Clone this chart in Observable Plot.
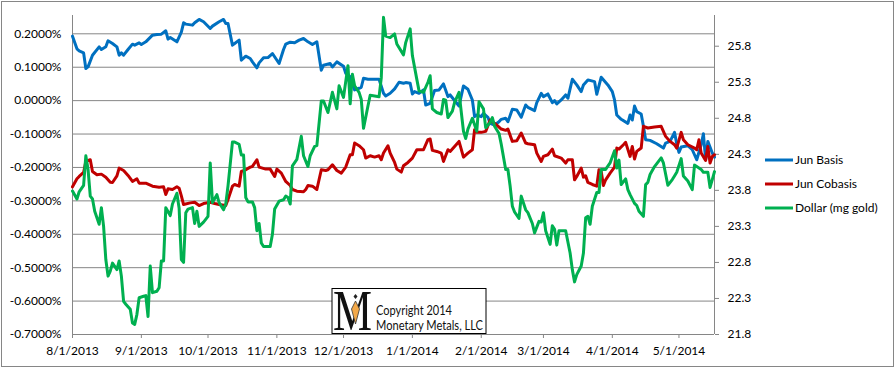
<!DOCTYPE html>
<html>
<head>
<meta charset="utf-8">
<script src="https://cdn.jsdelivr.net/npm/d3@7"></script>
<script src="https://cdn.jsdelivr.net/npm/@observablehq/plot@0.6"></script>
<style>
  html, body { margin: 0; padding: 0; background: white; }
  #chart { width: 896px; height: 369px; }
</style>
</head>
<body>
<div id="chart"></div>
<script>
// Days since 8/1/2013 and values
const startDate = "2013-08-01";
const lastDay = 289;
const leftTicks = [-0.7, -0.6, -0.5, -0.4, -0.3, -0.2, -0.1, 0, 0.1, 0.2];      // percent
const rightTicks = [21.8, 22.3, 22.8, 23.3, 23.8, 24.3, 24.8, 25.3, 25.8];     // mg gold
const seriesNames = ["Jun Basis", "Jun Cobasis", "Dollar (mg gold)"];
const seriesColors = ["#0070C0", "#C00000", "#00B050"];

// Jun Basis (%), [day, value]
const junBasis = [[0,0.193],[2,0.155],[3,0.149],[5,0.143],[6,0.096],[7,0.101],[9,0.136],[12,0.161],[13,0.153],[15,0.161],[16,0.179],[18,0.171],[20,0.161],[21,0.136],[22,0.143],[23,0.136],[25,0.153],[27,0.169],[28,0.166],[30,0.173],[31,0.168],[33,0.176],[36,0.196],[38,0.198],[40,0.199],[42,0.209],[43,0.184],[44,0.189],[47,0.176],[49,0.205],[50,0.233],[51,0.229],[54,0.226],[55,0.233],[57,0.243],[59,0.236],[62,0.216],[63,0.223],[66,0.236],[68,0.243],[69,0.231],[70,0.231],[72,0.166],[73,0.171],[75,0.181],[76,0.121],[78,0.133],[80,0.126],[81,0.116],[83,0.098],[84,0.113],[86,0.128],[88,0.129],[90,0.141],[93,0.111],[95,0.153],[96,0.169],[98,0.175],[100,0.173],[102,0.181],[104,0.186],[106,0.176],[108,0.168],[110,0.176],[112,0.091],[113,0.106],[116,0.111],[117,0.101],[119,0.116],[122,0.103],[123,0.082],[125,0.072],[127,0.032],[129,0.037],[130,0.040],[131,0.067],[133,0.064],[135,0.064],[138,0.064],[140,0.022],[141,0.014],[143,0.022],[145,0.035],[147,0.055],[149,0.052],[150,0.054],[152,0.052],[153,0.020],[154,0.027],[156,0.022],[158,0.032],[159,-0.013],[161,-0.008],[163,0.030],[165,0.032],[167,0.050],[169,0.012],[170,0.017],[173,-0.008],[174,-0.016],[176,0.044],[178,0.034],[180,0.002],[181,-0.048],[182,-0.043],[184,-0.048],[185,-0.038],[187,-0.050],[188,-0.068],[190,-0.073],[192,-0.063],[193,-0.056],[195,-0.053],[196,-0.063],[198,-0.026],[200,-0.028],[202,-0.050],[204,-0.013],[205,-0.020],[208,-0.030],[209,-0.006],[211,0.022],[212,0.012],[214,0.020],[216,-0.006],[217,0.000],[218,-0.010],[220,0.002],[222,0.017],[223,0.007],[225,0.064],[227,0.047],[229,0.027],[230,0.047],[232,0.062],[235,0.057],[236,0.019],[238,0.070],[241,0.047],[243,0.027],[244,0.002],[245,-0.043],[247,-0.056],[250,-0.068],[251,-0.043],[252,-0.058],[253,-0.016],[254,-0.033],[256,-0.040],[257,-0.077],[258,-0.117],[260,-0.119],[263,-0.129],[266,-0.142],[267,-0.127],[269,-0.122],[271,-0.095],[272,-0.129],[273,-0.155],[274,-0.139],[277,-0.135],[279,-0.147],[281,-0.177],[283,-0.132],[284,-0.099],[285,-0.177],[286,-0.122],[288,-0.157],[289,-0.169]];

// Jun Cobasis (%), [day, value]
const junCobasis = [[0,-0.258],[2,-0.234],[3,-0.227],[5,-0.215],[6,-0.182],[8,-0.177],[9,-0.212],[11,-0.222],[13,-0.220],[15,-0.229],[17,-0.244],[18,-0.245],[20,-0.225],[21,-0.202],[23,-0.209],[25,-0.224],[27,-0.242],[29,-0.234],[30,-0.247],[33,-0.247],[36,-0.256],[39,-0.259],[41,-0.258],[42,-0.281],[43,-0.264],[45,-0.266],[47,-0.258],[48,-0.262],[49,-0.285],[50,-0.311],[53,-0.306],[55,-0.304],[57,-0.314],[59,-0.308],[62,-0.304],[64,-0.308],[66,-0.311],[69,-0.314],[70,-0.296],[72,-0.256],[73,-0.251],[75,-0.256],[76,-0.212],[78,-0.207],[80,-0.199],[81,-0.197],[83,-0.177],[84,-0.199],[87,-0.205],[89,-0.205],[91,-0.227],[92,-0.205],[94,-0.217],[96,-0.242],[98,-0.254],[99,-0.266],[101,-0.271],[104,-0.273],[105,-0.266],[106,-0.254],[108,-0.256],[110,-0.266],[112,-0.207],[114,-0.209],[115,-0.207],[117,-0.192],[119,-0.209],[121,-0.217],[123,-0.199],[125,-0.162],[126,-0.162],[127,-0.127],[129,-0.135],[131,-0.147],[132,-0.172],[134,-0.165],[136,-0.169],[138,-0.165],[139,-0.177],[140,-0.157],[142,-0.135],[143,-0.157],[145,-0.185],[146,-0.205],[148,-0.214],[149,-0.195],[151,-0.185],[153,-0.172],[155,-0.147],[157,-0.147],[158,-0.147],[160,-0.117],[161,-0.115],[162,-0.149],[164,-0.152],[166,-0.157],[167,-0.182],[169,-0.147],[170,-0.152],[172,-0.137],[174,-0.122],[176,-0.169],[178,-0.157],[180,-0.147],[181,-0.087],[182,-0.095],[184,-0.095],[186,-0.092],[188,-0.058],[189,-0.063],[191,-0.073],[193,-0.085],[195,-0.089],[196,-0.085],[198,-0.122],[200,-0.120],[202,-0.097],[204,-0.127],[205,-0.129],[208,-0.132],[209,-0.157],[211,-0.182],[212,-0.167],[214,-0.162],[216,-0.145],[217,-0.165],[220,-0.172],[222,-0.187],[223,-0.177],[225,-0.177],[226,-0.237],[227,-0.227],[229,-0.202],[230,-0.229],[231,-0.225],[232,-0.245],[234,-0.251],[236,-0.256],[237,-0.207],[238,-0.212],[239,-0.254],[240,-0.237],[242,-0.217],[244,-0.199],[245,-0.142],[246,-0.145],[248,-0.132],[249,-0.125],[251,-0.167],[252,-0.137],[253,-0.175],[254,-0.152],[256,-0.142],[257,-0.077],[259,-0.082],[262,-0.079],[265,-0.077],[267,-0.107],[269,-0.122],[271,-0.132],[272,-0.142],[274,-0.095],[275,-0.117],[277,-0.132],[280,-0.142],[281,-0.147],[282,-0.117],[283,-0.157],[285,-0.179],[286,-0.137],[287,-0.187],[288,-0.167],[289,-0.162]];

// Dollar (mg gold), right axis, [day, value]
const dollarMg = [[0,23.79],[2,23.68],[3,23.78],[5,23.87],[6,24.28],[7,24.09],[8,23.72],[9,23.68],[10,23.51],[12,23.33],[13,23.56],[14,23.30],[15,22.84],[16,22.61],[17,22.68],[18,22.79],[20,22.70],[21,22.82],[22,22.61],[23,22.26],[24,22.22],[26,22.15],[27,21.96],[28,21.94],[29,22.08],[30,22.31],[32,22.33],[33,22.34],[34,22.05],[35,22.75],[36,22.38],[38,22.40],[39,22.45],[40,22.82],[41,22.82],[42,23.56],[44,23.45],[45,23.61],[47,23.76],[48,23.55],[49,22.84],[50,22.80],[51,23.49],[52,23.54],[54,23.56],[55,23.34],[56,23.51],[57,23.30],[59,23.36],[61,23.44],[62,24.18],[63,23.63],[65,23.74],[66,23.63],[68,23.53],[69,23.61],[70,23.86],[72,24.47],[73,24.47],[75,24.44],[76,24.29],[77,24.29],[78,23.70],[79,23.64],[81,23.64],[82,23.56],[83,23.24],[84,23.34],[85,23.07],[86,23.02],[89,23.02],[90,23.19],[91,23.54],[93,23.65],[95,23.67],[96,23.72],[97,23.70],[98,23.61],[99,24.14],[101,24.23],[103,24.55],[104,24.28],[106,24.13],[107,24.28],[109,24.41],[110,24.42],[112,25.04],[113,25.04],[115,24.88],[117,25.16],[119,24.93],[120,25.25],[122,25.09],[124,25.53],[125,25.00],[126,25.41],[127,25.25],[129,25.16],[130,25.06],[131,24.66],[133,24.97],[134,25.12],[136,25.11],[138,25.10],[139,25.36],[140,26.20],[141,25.94],[143,25.92],[145,25.97],[146,25.83],[149,25.68],[150,25.85],[152,26.04],[153,25.67],[155,25.34],[156,25.18],[158,25.16],[160,25.30],[161,25.39],[162,24.93],[164,24.88],[166,24.86],[167,25.06],[168,25.05],[169,24.81],[171,24.90],[172,25.02],[174,25.16],[176,24.62],[177,24.52],[178,24.65],[180,24.80],[182,24.62],[183,25.03],[185,24.93],[186,24.67],[188,24.74],[189,24.81],[190,24.69],[192,24.59],[193,24.44],[195,24.09],[196,24.09],[197,23.86],[198,23.58],[199,23.50],[201,23.41],[202,23.72],[204,23.53],[205,23.49],[207,23.34],[208,23.21],[210,23.37],[211,23.36],[212,23.49],[213,23.24],[215,23.05],[216,23.31],[217,23.26],[218,23.04],[219,23.24],[222,23.24],[224,22.93],[225,22.70],[226,22.53],[227,22.63],[229,22.75],[230,22.93],[231,23.42],[232,23.44],[233,23.33],[234,23.58],[236,23.77],[237,23.77],[238,24.09],[240,24.09],[242,24.18],[244,24.35],[245,24.11],[246,24.22],[247,23.88],[249,23.96],[250,23.81],[251,23.74],[253,23.62],[254,23.59],[255,23.51],[257,23.44],[258,23.88],[259,23.91],[260,24.02],[262,24.13],[265,24.25],[266,24.18],[268,23.87],[270,23.95],[271,24.00],[272,24.05],[274,24.24],[275,24.00],[277,23.93],[279,23.81],[280,24.15],[281,24.13],[283,24.09],[284,24.05],[286,24.05],[287,23.84],[288,23.95],[289,24.06]];

// ---- build ----
const start = new Date(startDate + "T00:00:00Z");
const end = d3.utcDay.offset(start, lastDay);
const leftDomain = [-0.7, 0.2548];
const rightDomain = [21.8, 26.226];
const toLeft = d3.scaleLinear(rightDomain, leftDomain);

const asRows = (arr, name, map = v => v) =>
  arr.map(([d, v]) => ({date: d3.utcDay.offset(start, d), value: map(v), series: name}));
const basisRows = asRows(junBasis, seriesNames[0]);
const cobasisRows = asRows(junCobasis, seriesNames[1]);
const dollarRows = asRows(dollarMg, seriesNames[2], toLeft);

const monthTicks = d3.utcMonth.range(start, d3.utcDay.offset(end, 1));
const grey = "#868686";

const chart = Plot.plot({
  width: 896,
  height: 369,
  marginLeft: 72,
  marginRight: 182,
  marginTop: 15,
  marginBottom: 35,
  x: {type: "utc", domain: [start, end]},
  y: {domain: leftDomain},
  style: {fontFamily: "Lato, 'Open Sans', sans-serif", fontSize: "12px", color: "#000", background: "white"},
  marks: [
    Plot.gridY(leftTicks, {stroke: grey, strokeOpacity: 1, strokeWidth: 1}),
    Plot.ruleX([start, end], {stroke: grey, strokeWidth: 1}),
    Plot.axisY({ticks: leftTicks, tickFormat: d => d.toFixed(4) + "%", tickSize: 0, tickPadding: 11, label: null}),
    Plot.axisY({anchor: "right", ticks: rightTicks.map(toLeft), tickFormat: d => toLeft.invert(d).toFixed(1),
      tickSize: 4, tickPadding: 9, stroke: grey, label: null}),
    Plot.axisX({ticks: monthTicks, tickFormat: d3.utcFormat("%-m/%-d/%Y"), tickSize: 4, tickPadding: 8, stroke: grey, label: null}),
    Plot.lineY(basisRows, {x: "date", y: "value", stroke: seriesColors[0], strokeWidth: 3, strokeLinejoin: "round"}),
    Plot.lineY(cobasisRows, {x: "date", y: "value", stroke: seriesColors[1], strokeWidth: 3, strokeLinejoin: "round"}),
    Plot.lineY(dollarRows, {x: "date", y: "value", stroke: seriesColors[2], strokeWidth: 3, strokeLinejoin: "round"})
  ]
});

document.getElementById("chart").appendChild(chart);

const svg = d3.select(chart);
// outer chart border
svg.insert("rect", ":first-child")
  .attr("x", 1.5).attr("y", 1.5).attr("width", 892).attr("height", 365)
  .attr("fill", "white").attr("stroke", grey).attr("stroke-width", 1);

// legend
const lg = svg.append("g").attr("font-family", "Lato, sans-serif").attr("font-size", 12).attr("text-anchor", "start");
seriesNames.forEach((name, i) => {
  const y = 160 + i * 24;
  lg.append("line").attr("x1", 765).attr("x2", 793).attr("y1", y).attr("y2", y)
    .attr("stroke", seriesColors[i]).attr("stroke-width", 3);
  lg.append("text").attr("x", 795).attr("y", y).attr("dy", "0.35em").attr("fill", "#000").text(name);
});

// copyright box
const cb = svg.append("g").attr("text-anchor", "start");
cb.append("rect").attr("x", 332).attr("y", 288.5).attr("width", 154).attr("height", 45)
  .attr("fill", "white").attr("stroke", "#000").attr("stroke-width", 1);
cb.append("text").attr("x", 333).attr("y", 330).attr("font-family", "'Liberation Serif', 'DejaVu Serif', serif")
  .attr("font-size", 58).attr("textLength", 39).attr("lengthAdjust", "spacingAndGlyphs")
  .attr("fill", "#111").text("M");
cb.append("path").attr("d", "M355.5,294 L357.5,296.5 L355.5,299 L353.5,296.5 Z").attr("fill", "#222");
cb.append("path").attr("d", "M355.5,301 L359.5,309 L355.5,324 L351.5,309 Z").attr("fill", "#F3A94A").attr("stroke", "#333").attr("stroke-width", 0.8);
cb.append("text").attr("x", 376).attr("y", 315).attr("font-family", "Lato, sans-serif").attr("font-size", 13)
  .attr("textLength", 76).attr("lengthAdjust", "spacingAndGlyphs").attr("fill", "#111").text("Copyright 2014");
cb.append("text").attr("x", 376).attr("y", 329.5).attr("font-family", "Lato, sans-serif").attr("font-size", 13)
  .attr("textLength", 107).attr("lengthAdjust", "spacingAndGlyphs").attr("fill", "#111").text("Monetary Metals, LLC");
</script>
</body>
</html>
